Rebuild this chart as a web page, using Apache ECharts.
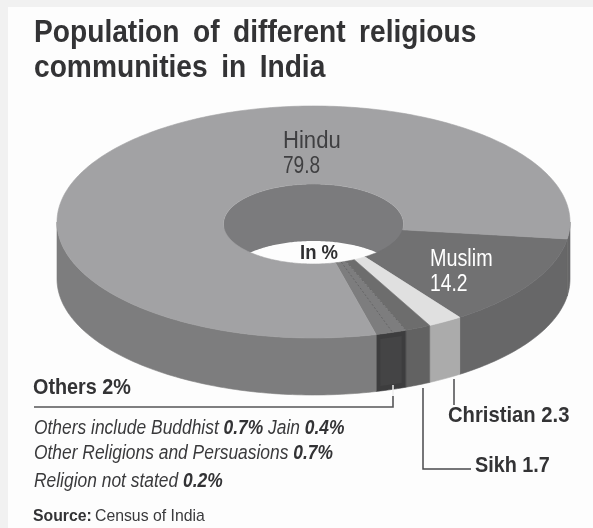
<!DOCTYPE html>
<html>
<head>
<meta charset="utf-8">
<style>html,body{margin:0;padding:0;background:#f1f1f1}#chart{width:593px;height:528px}</style>
<script src="https://cdn.jsdelivr.net/npm/echarts@6/dist/echarts.min.js"></script>
</head>
<body>
<div id="chart"></div>
<script>
// Census shares, in drawing order clockwise from the Muslim/Hindu boundary.
const categories = ['Muslim', 'Christian', 'Sikh', 'Others', 'Hindu'];
const values = [14.2, 2.3, 1.7, 2, 79.8];
const othersBreakdown = [0.7, 0.4, 0.7, 0.2];

const titleLines = ['Population \u2009of \u2009different \u2009religious', 'communities \u2009in \u2009India'];
const noteLines = [
  [['Others include Buddhist ', 'i'], ['0.7%', 'b'], [' Jain ', 'i'], ['0.4%', 'b']],
  [['Other Religions and Persuasions ', 'i'], ['0.7%', 'b']],
  [['Religion not stated ', 'i'], ['0.2%', 'b']]
];

// Face colours per community.
const topColors = ['#717172', '#e0e0e0', '#6d6d6d', '#7d7d7e', '#a2a2a4'];
const sideColors = ['#676768', '#ababab', '#626262', '#3d3d3e', '#7d7d7e'];
const wallColor = '#7b7b7d';

// Disc geometry in pixels.
const disc = { cx: 313.5, cy: 222, rx: 256.5, ry: 116, irx: 90, iry: 40, icy: 224, depth: 57, startDeg: 8.4 };
const SANS = "'Liberation Sans', Arial, sans-serif";

// Perspective foreshortening of angles around the disc.
function warp(deg) {
  return deg - 5.5 * Math.sin((deg - disc.startDeg) * Math.PI / 180);
}
function sliceBounds(i) {
  let sum = 0;
  for (let k = 0; k < i; k++) sum += values[k];
  const total = values.reduce((a, b) => a + b, 0);
  return [
    warp(disc.startDeg + sum / total * 360),
    warp(disc.startDeg + (sum + values[i]) / total * 360)
  ];
}
function arc(a0, a1, rx, ry, cy, dy) {
  const pts = [];
  const n = Math.max(2, Math.ceil(Math.abs(a1 - a0)));
  for (let j = 0; j <= n; j++) {
    const t = (a0 + (a1 - a0) * j / n) * Math.PI / 180;
    pts.push([disc.cx + rx * Math.cos(t), cy + ry * Math.sin(t) + (dy || 0)]);
  }
  return pts;
}
function clipRanges(a0, a1, ranges) {
  const out = [];
  ranges.forEach(r => {
    const s = Math.max(a0, r[0]), e = Math.min(a1, r[1]);
    if (e > s) out.push([s, e]);
  });
  return out;
}

const sliceData = categories.map((name, i) => ({ name, value: [i] }));

function renderWall(params, api) {
  const [a0, a1] = sliceBounds(api.value(0));
  const kids = clipRanges(a0, a1, [[180, 360]]).map(([s, e]) => ({
    type: 'polygon',
    shape: { points: arc(s, e, disc.irx, disc.iry, disc.icy).concat(arc(e, s, disc.irx, disc.iry, disc.icy, disc.depth)) },
    style: { fill: wallColor }
  }));
  return { type: 'group', children: kids };
}
function renderSide(params, api) {
  const i = api.value(0);
  const [a0, a1] = sliceBounds(i);
  const kids = clipRanges(a0, a1, [[0, 180], [360, 540]]).map(([s, e]) => {
    // The short run past the rim's right extreme blends into the following face.
    const fill = s >= 360 ? sideColors[(i + 1) % sideColors.length] : sideColors[i];
    return {
      type: 'polygon',
      shape: { points: arc(s, e, disc.rx, disc.ry, disc.cy).concat(arc(e, s, disc.rx, disc.ry, disc.cy, disc.depth)) },
      style: { fill, stroke: fill, lineWidth: 0.6 }
    };
  });
  if (categories[i] === 'Others') {
    // Slightly lighter inset on the front of the Others block.
    const m = (a1 - a0) * 0.14;
    kids.push({
      type: 'polygon',
      shape: { points: arc(a0 + m, a1 - m, disc.rx, disc.ry, disc.cy, 5).concat(arc(a1 - m, a0 + m, disc.rx, disc.ry, disc.cy, disc.depth - 5)) },
      style: { fill: '#444445' }
    });
  }
  return { type: 'group', children: kids };
}
function renderTop(params, api) {
  const i = api.value(0);
  const [a0, a1] = sliceBounds(i);
  const kids = [{
    type: 'polygon',
    shape: { points: arc(a0, a1, disc.rx, disc.ry, disc.cy).concat(arc(a1, a0, disc.irx, disc.iry, disc.icy)) },
    style: { fill: topColors[i], stroke: topColors[i], lineWidth: 0.6 }
  }];
  if (categories[i] === 'Others') {
    // Dotted partitions for the communities grouped under Others.
    const total = othersBreakdown.reduce((a, b) => a + b, 0);
    const cut = a => {
      const t = a * Math.PI / 180;
      return {
        type: 'line',
        shape: {
          x1: disc.cx + disc.irx * Math.cos(t), y1: disc.icy + disc.iry * Math.sin(t),
          x2: disc.cx + disc.rx * Math.cos(t), y2: disc.cy + disc.ry * Math.sin(t)
        },
        style: { stroke: '#606061', lineWidth: 0.8, lineDash: [2, 2] }
      };
    };
    kids.push(cut(a0), cut(a1 - (a1 - a0) * (othersBreakdown[0] + othersBreakdown[1]) / total));
  }
  return { type: 'group', children: kids };
}

function customSeries(renderItem, z) {
  return { type: 'custom', coordinateSystem: 'none', renderItem, data: sliceData, z, silent: true, animation: false };
}

const textEl = (x, y, text, font, fill, scaleX) => ({
  type: 'text', x, y, scaleX, z: 100, silent: true,
  style: { text, font, fill, textAlign: 'left' }
});
const lineEl = (pts, stroke, lineWidth) => ({
  type: 'polyline', z: 99, silent: true,
  shape: { points: pts },
  style: { stroke, lineWidth, fill: 'none' }
});

const elements = [
  { type: 'rect', z: -1, silent: true, shape: { x: 8, y: 7, width: 585, height: 521 }, style: { fill: '#fdfdfd' } }
];

// Title
titleLines.forEach((line, i) => {
  elements.push(textEl(34, 17 + i * 35, line, `bold 32px ${SANS}`, '#333335', 0.88));
});

// Slice labels
const idx = name => categories.indexOf(name);
const sliceLabelFont = `23px ${SANS}`;
elements.push(textEl(283, 130, categories[idx('Hindu')], sliceLabelFont, '#3f3f41', 0.96));
elements.push(textEl(283, 155, String(values[idx('Hindu')]), sliceLabelFont, '#3f3f41', 0.83));
elements.push(textEl(430, 248, categories[idx('Muslim')], sliceLabelFont, '#ffffff', 0.86));
elements.push(textEl(430, 273, String(values[idx('Muslim')]), sliceLabelFont, '#ffffff', 0.84));
elements.push(textEl(300, 243, 'In %', `bold 21px ${SANS}`, '#2f2f31', 0.88));

// Callouts and their leader lines
const calloutFont = `bold 22px ${SANS}`;
elements.push(textEl(33, 377, `${categories[idx('Others')]} ${values[idx('Others')]}%`, calloutFont, '#333335', 0.9));
elements.push(textEl(448, 405, `${categories[idx('Christian')]} ${values[idx('Christian')]}`, calloutFont, '#333335', 0.92));
elements.push(textEl(475, 455, `${categories[idx('Sikh')]} ${values[idx('Sikh')]}`, calloutFont, '#333335', 0.9));
elements.push(lineEl([[393, 385], [393, 396]], '#eeeeee', 1.5));
elements.push(lineEl([[393, 396], [393, 407], [34, 407]], '#555557', 1.6));
elements.push(lineEl([[423, 388], [423, 469], [471, 469]], '#4a4a4c', 1.5));
elements.push(lineEl([[454, 379], [454, 405]], '#4a4a4c', 1.5));

// Notes under the Others callout
[418, 443, 471].forEach((y, i) => {
  elements.push({
    type: 'text', x: 34, y, scaleX: 0.87, z: 100, silent: true,
    style: {
      text: noteLines[i].map(p => `{${p[1]}|${p[0]}}`).join(''),
      rich: {
        i: { font: `italic 20px ${SANS}`, fill: '#3a3a3c' },
        b: { font: `italic bold 20px ${SANS}`, fill: '#333335' }
      }
    }
  });
});

// Source line
elements.push({
  type: 'text', x: 33, y: 508, scaleX: 0.93, z: 100, silent: true,
  style: {
    text: '{b|Source:} {r|Census of India}',
    rich: {
      b: { font: `bold 17px ${SANS}`, fill: '#333335' },
      r: { font: `17px ${SANS}`, fill: '#3a3a3c' }
    }
  }
});

const chart = echarts.init(document.getElementById('chart'), null, { renderer: 'canvas' });
chart.setOption({
  animation: false,
  backgroundColor: '#f1f1f1',
  series: [customSeries(renderWall, 2), customSeries(renderSide, 3), customSeries(renderTop, 4)],
  graphic: { elements }
});
</script>
</body>
</html>
